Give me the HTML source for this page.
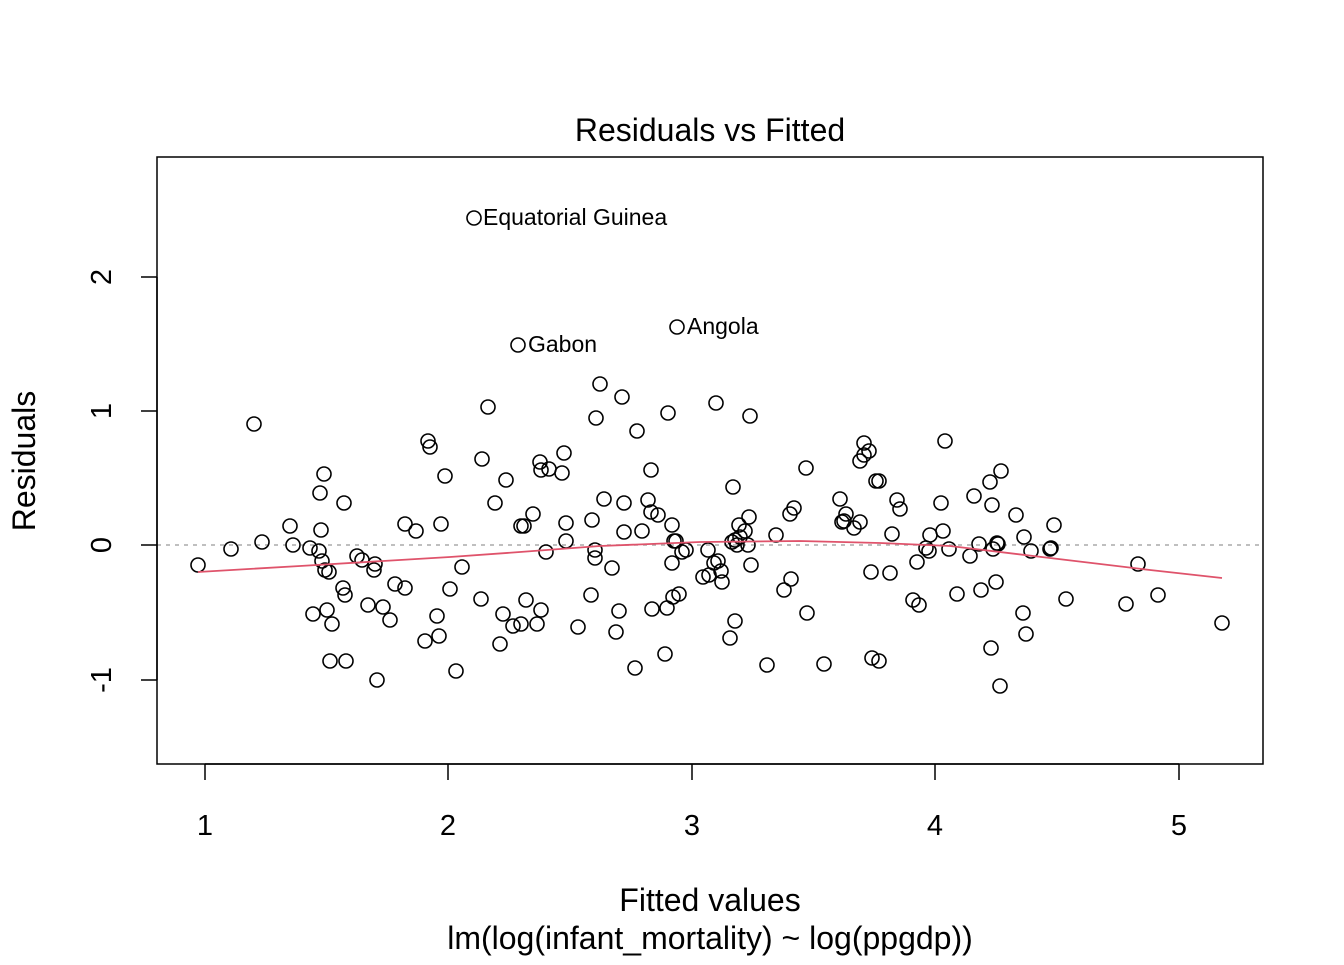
<!DOCTYPE html>
<html><head><meta charset="utf-8"><style>body{margin:0;background:#fff}</style></head><body>
<svg width="1344" height="960" xmlns="http://www.w3.org/2000/svg" font-family="Liberation Sans, Arial, sans-serif">
<rect width="1344" height="960" fill="#fff"/>
<text x="710" y="141" font-size="32" text-anchor="middle">Residuals vs Fitted</text>
<line x1="157" y1="545" x2="1263" y2="545" stroke="#aaa" stroke-width="1.5" stroke-dasharray="4,5"/>
<g fill="none" stroke="#000" stroke-width="1.6">
<circle cx="198" cy="565" r="7"/><circle cx="231" cy="549" r="7"/><circle cx="254" cy="424" r="7"/><circle cx="262" cy="542" r="7"/><circle cx="290" cy="526" r="7"/><circle cx="293" cy="545" r="7"/><circle cx="310" cy="548" r="7"/><circle cx="313" cy="614" r="7"/><circle cx="319" cy="551" r="7"/><circle cx="320" cy="493" r="7"/><circle cx="321" cy="530" r="7"/><circle cx="322" cy="561" r="7"/><circle cx="324" cy="474" r="7"/><circle cx="325" cy="570" r="7"/><circle cx="327" cy="610" r="7"/><circle cx="329" cy="572" r="7"/><circle cx="330" cy="661" r="7"/><circle cx="332" cy="624" r="7"/><circle cx="343" cy="588" r="7"/><circle cx="344" cy="503" r="7"/><circle cx="345" cy="595" r="7"/><circle cx="346" cy="661" r="7"/><circle cx="357" cy="556" r="7"/><circle cx="362" cy="560" r="7"/><circle cx="368" cy="605" r="7"/><circle cx="374" cy="570" r="7"/><circle cx="375" cy="564" r="7"/><circle cx="377" cy="680" r="7"/><circle cx="383" cy="607" r="7"/><circle cx="390" cy="620" r="7"/><circle cx="395" cy="584" r="7"/><circle cx="405" cy="524" r="7"/><circle cx="405" cy="588" r="7"/><circle cx="416" cy="531" r="7"/><circle cx="425" cy="641" r="7"/><circle cx="428" cy="441" r="7"/><circle cx="430" cy="447" r="7"/><circle cx="437" cy="616" r="7"/><circle cx="439" cy="636" r="7"/><circle cx="441" cy="524" r="7"/><circle cx="445" cy="476" r="7"/><circle cx="450" cy="589" r="7"/><circle cx="456" cy="671" r="7"/><circle cx="462" cy="567" r="7"/><circle cx="474" cy="218" r="7"/><circle cx="481" cy="599" r="7"/><circle cx="482" cy="459" r="7"/><circle cx="488" cy="407" r="7"/><circle cx="495" cy="503" r="7"/><circle cx="500" cy="644" r="7"/><circle cx="503" cy="614" r="7"/><circle cx="506" cy="480" r="7"/><circle cx="513" cy="626" r="7"/><circle cx="518" cy="345" r="7"/><circle cx="521" cy="624" r="7"/><circle cx="521" cy="526" r="7"/><circle cx="524" cy="526" r="7"/><circle cx="526" cy="600" r="7"/><circle cx="533" cy="514" r="7"/><circle cx="537" cy="624" r="7"/><circle cx="540" cy="462" r="7"/><circle cx="541" cy="610" r="7"/><circle cx="541" cy="470" r="7"/><circle cx="546" cy="552" r="7"/><circle cx="549" cy="469" r="7"/><circle cx="562" cy="473" r="7"/><circle cx="564" cy="453" r="7"/><circle cx="566" cy="523" r="7"/><circle cx="566" cy="541" r="7"/><circle cx="578" cy="627" r="7"/><circle cx="591" cy="595" r="7"/><circle cx="592" cy="520" r="7"/><circle cx="595" cy="550" r="7"/><circle cx="595" cy="558" r="7"/><circle cx="596" cy="418" r="7"/><circle cx="600" cy="384" r="7"/><circle cx="604" cy="499" r="7"/><circle cx="612" cy="568" r="7"/><circle cx="616" cy="632" r="7"/><circle cx="619" cy="611" r="7"/><circle cx="622" cy="397" r="7"/><circle cx="624" cy="532" r="7"/><circle cx="624" cy="503" r="7"/><circle cx="637" cy="431" r="7"/><circle cx="635" cy="668" r="7"/><circle cx="642" cy="531" r="7"/><circle cx="648" cy="500" r="7"/><circle cx="651" cy="470" r="7"/><circle cx="651" cy="512" r="7"/><circle cx="652" cy="609" r="7"/><circle cx="658" cy="515" r="7"/><circle cx="667" cy="608" r="7"/><circle cx="665" cy="654" r="7"/><circle cx="668" cy="413" r="7"/><circle cx="672" cy="525" r="7"/><circle cx="672" cy="563" r="7"/><circle cx="673" cy="597" r="7"/><circle cx="674" cy="541" r="7"/><circle cx="677" cy="327" r="7"/><circle cx="676" cy="541" r="7"/><circle cx="679" cy="594" r="7"/><circle cx="682" cy="552" r="7"/><circle cx="686" cy="550" r="7"/><circle cx="703" cy="577" r="7"/><circle cx="708" cy="550" r="7"/><circle cx="709" cy="575" r="7"/><circle cx="714" cy="563" r="7"/><circle cx="716" cy="403" r="7"/><circle cx="718" cy="561" r="7"/><circle cx="721" cy="571" r="7"/><circle cx="722" cy="582" r="7"/><circle cx="730" cy="638" r="7"/><circle cx="732" cy="542" r="7"/><circle cx="733" cy="487" r="7"/><circle cx="735" cy="621" r="7"/><circle cx="735" cy="540" r="7"/><circle cx="737" cy="545" r="7"/><circle cx="739" cy="525" r="7"/><circle cx="740" cy="537" r="7"/><circle cx="745" cy="531" r="7"/><circle cx="748" cy="545" r="7"/><circle cx="749" cy="517" r="7"/><circle cx="750" cy="416" r="7"/><circle cx="751" cy="565" r="7"/><circle cx="767" cy="665" r="7"/><circle cx="776" cy="535" r="7"/><circle cx="784" cy="590" r="7"/><circle cx="790" cy="514" r="7"/><circle cx="791" cy="579" r="7"/><circle cx="794" cy="508" r="7"/><circle cx="806" cy="468" r="7"/><circle cx="807" cy="613" r="7"/><circle cx="824" cy="664" r="7"/><circle cx="840" cy="499" r="7"/><circle cx="842" cy="522" r="7"/><circle cx="844" cy="521" r="7"/><circle cx="846" cy="514" r="7"/><circle cx="854" cy="528" r="7"/><circle cx="860" cy="461" r="7"/><circle cx="860" cy="522" r="7"/><circle cx="864" cy="443" r="7"/><circle cx="864" cy="455" r="7"/><circle cx="869" cy="451" r="7"/><circle cx="871" cy="572" r="7"/><circle cx="872" cy="658" r="7"/><circle cx="876" cy="481" r="7"/><circle cx="879" cy="661" r="7"/><circle cx="879" cy="481" r="7"/><circle cx="890" cy="573" r="7"/><circle cx="892" cy="534" r="7"/><circle cx="897" cy="500" r="7"/><circle cx="900" cy="509" r="7"/><circle cx="913" cy="600" r="7"/><circle cx="917" cy="562" r="7"/><circle cx="919" cy="605" r="7"/><circle cx="926" cy="548" r="7"/><circle cx="929" cy="551" r="7"/><circle cx="930" cy="535" r="7"/><circle cx="941" cy="503" r="7"/><circle cx="943" cy="531" r="7"/><circle cx="945" cy="441" r="7"/><circle cx="949" cy="549" r="7"/><circle cx="957" cy="594" r="7"/><circle cx="970" cy="556" r="7"/><circle cx="974" cy="496" r="7"/><circle cx="979" cy="544" r="7"/><circle cx="981" cy="590" r="7"/><circle cx="990" cy="482" r="7"/><circle cx="991" cy="648" r="7"/><circle cx="992" cy="505" r="7"/><circle cx="993" cy="549" r="7"/><circle cx="996" cy="582" r="7"/><circle cx="997" cy="543" r="7"/><circle cx="998" cy="544" r="7"/><circle cx="1000" cy="686" r="7"/><circle cx="1001" cy="471" r="7"/><circle cx="1016" cy="515" r="7"/><circle cx="1023" cy="613" r="7"/><circle cx="1024" cy="537" r="7"/><circle cx="1026" cy="634" r="7"/><circle cx="1031" cy="551" r="7"/><circle cx="1050" cy="549" r="7"/><circle cx="1051" cy="548" r="7"/><circle cx="1054" cy="525" r="7"/><circle cx="1066" cy="599" r="7"/><circle cx="1126" cy="604" r="7"/><circle cx="1138" cy="564" r="7"/><circle cx="1158" cy="595" r="7"/><circle cx="1222" cy="623" r="7"/>
</g>
<polyline fill="none" stroke="#DF536B" stroke-width="1.8" points="198,572 300,566 450,557 520,552 600,546 700,542 800,541 880,543 950,546 1050,558 1150,570 1222,578"/>
<rect x="157" y="157" width="1106" height="607" fill="none" stroke="#000" stroke-width="1.5"/>
<g stroke="#000" stroke-width="1.5">
<line x1="205" y1="764" x2="1179" y2="764"/>
<line x1="205" y1="764" x2="205" y2="780"/><line x1="448" y1="764" x2="448" y2="780"/><line x1="692" y1="764" x2="692" y2="780"/><line x1="935" y1="764" x2="935" y2="780"/><line x1="1179" y1="764" x2="1179" y2="780"/>
<line x1="157" y1="277" x2="157" y2="680"/>
<line x1="141" y1="680" x2="157" y2="680"/><line x1="141" y1="545" x2="157" y2="545"/><line x1="141" y1="411" x2="157" y2="411"/><line x1="141" y1="277" x2="157" y2="277"/>
</g>
<g font-size="29" text-anchor="middle">
<text x="205" y="835">1</text><text x="448" y="835">2</text><text x="692" y="835">3</text><text x="935" y="835">4</text><text x="1179" y="835">5</text>
<text transform="translate(111,680) rotate(-90)">-1</text>
<text transform="translate(111,545) rotate(-90)">0</text>
<text transform="translate(111,411) rotate(-90)">1</text>
<text transform="translate(111,277) rotate(-90)">2</text>
</g>
<g font-size="32" text-anchor="middle">
<text transform="translate(35,461) rotate(-90)">Residuals</text>
<text x="710" y="911">Fitted values</text>
<text x="710" y="949">lm(log(infant_mortality) ~ log(ppgdp))</text>
</g>
<g font-size="23">
<text x="483" y="225">Equatorial Guinea</text>
<text x="528" y="352">Gabon</text>
<text x="687" y="334">Angola</text>
</g>
</svg>
</body></html>
